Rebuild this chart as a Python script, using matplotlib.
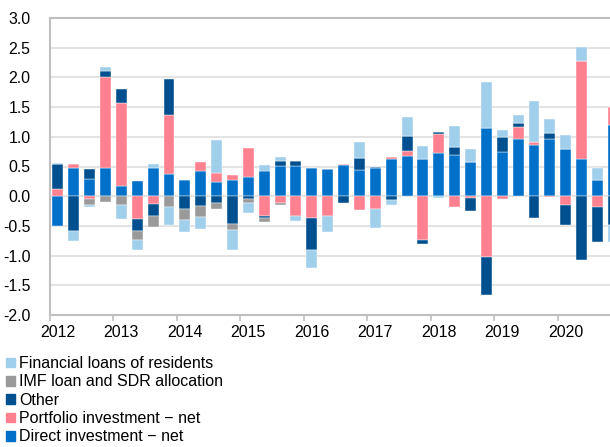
import numpy as np
import matplotlib
matplotlib.use('Agg')
import matplotlib.pyplot as plt
from matplotlib.patches import Patch

plt.rcParams['font.family'] = ['Liberation Sans', 'DejaVu Sans']

# quarterly, 2012Q1 .. 2020Q4
years = ['2012', '2013', '2014', '2015', '2016', '2017', '2018', '2019', '2020']

direct = [-0.51, 0.48, 0.29, 0.48, 0.18, 0.26, 0.47, 0.38, 0.27, 0.43,
          0.24, 0.28, 0.33, 0.43, 0.51, 0.51, 0.47, 0.46, 0.53, 0.44,
          0.47, 0.63, 0.67, 0.63, 0.72, 0.69, 0.58, 1.15, 0.74, 0.96,
          0.87, 0.97, 0.79, 0.62, 0.28, 1.20]
portfolio = [0.12, 0.06, -0.04, 1.52, 1.39, -0.38, -0.13, 0.98, 0.0, 0.15,
             0.15, 0.07, 0.48, -0.34, -0.12, -0.33, -0.37, -0.34, 0.01, -0.24,
             -0.21, 0.03, 0.09, -0.74, 0.33, -0.19, -0.03, -1.03, -0.05, 0.20,
             0.05, -0.01, -0.15, 1.65, -0.19, 0.30]
other = [0.43, -0.59, 0.16, 0.10, 0.24, -0.20, -0.20, 0.61, -0.22, -0.16,
         -0.11, -0.46, -0.05, -0.03, 0.08, 0.08, -0.53, 0.0, -0.12, 0.20,
         0.02, -0.07, 0.25, -0.07, 0.03, 0.13, -0.22, -0.63, 0.25, 0.08,
         -0.36, 0.10, -0.33, -1.08, -0.58, -0.49]
imf = [0.0, 0.0, -0.10, -0.10, -0.15, -0.15, -0.19, -0.18, -0.18, -0.19,
       -0.10, -0.11, -0.06, -0.06, -0.02, 0.0, 0.0, 0.0, 0.0, 0.0,
       0.0, 0.0, 0.0, 0.0, 0.0, 0.0, 0.0, 0.0, 0.0, 0.0,
       0.0, 0.0, 0.0, 0.0, 0.0, 0.0]
fin_loans = [0.01, -0.16, -0.05, 0.07, -0.24, -0.18, 0.08, -0.30, -0.20, -0.20,
             0.55, -0.34, -0.17, 0.10, 0.07, -0.09, -0.31, -0.26, 0.0, 0.28,
             -0.32, -0.07, 0.32, 0.21, -0.03, 0.37, 0.21, 0.78, 0.13, 0.12,
             0.69, 0.23, 0.24, 0.25, 0.19, -0.28]

series = [
    ('Direct investment \u2212 net', direct, '#0070C9'),
    ('Portfolio investment \u2212 net', portfolio, '#FF808F'),
    ('Other', other, '#00508F'),
    ('IMF loan and SDR allocation', imf, '#9A9A9A'),
    ('Financial loans of residents', fin_loans, '#A0CFEB'),
]

fig = plt.figure(figsize=(6.10, 4.47), dpi=100)
ax = fig.add_axes([50 / 610, (447 - 315) / 447, 560 / 610, 297 / 447])

x = np.arange(len(direct))
pos = np.zeros(len(x))
neg = np.zeros(len(x))
for name, vals, col in series:
    v = np.array(vals)
    bottom = np.where(v >= 0, pos, neg)
    ax.bar(x, v, 0.69, bottom=bottom, color=col, edgecolor='white',
           linewidth=0.3, zorder=3)
    pos += np.clip(v, 0, None)
    neg += np.clip(v, None, 0)

ax.set_yticks(np.arange(-2.0, 3.01, 0.5))
ax.set_yticklabels(['%.1f' % t for t in np.arange(-2.0, 3.01, 0.5)])
ax.yaxis.grid(True, color='#E3E3E3', linewidth=1.5)
ax.set_axisbelow(True)

ax.set_xticks(np.arange(0, len(x), 4))
ax.set_xticklabels(years)
ax.set_xticks(np.arange(-0.5, len(x), 4), minor=True)
ax.tick_params(axis='x', which='major', length=0, pad=7, labelsize=11.4)
ax.tick_params(axis='x', which='minor', length=4, color='#BFBFBF', width=1.2)
ax.tick_params(axis='y', length=0, pad=14, labelsize=11.4)

# limits last, set_xticks would widen them
ax.set_xlim(-0.5, 34.79)
ax.set_ylim(-2.0, 3.0)

for s in ['left', 'top', 'bottom']:
    ax.spines[s].set_color('#C0C0C0')
    ax.spines[s].set_linewidth(1.5)
ax.spines['right'].set_visible(False)

handles = [Patch(color=col, label=name) for name, vals, col in series[::-1]]
fig.legend(handles=handles, loc='upper left', bbox_to_anchor=(6 / 610, 1 - 356 / 447),
           frameon=False, fontsize=11.5, handlelength=0.55, handleheight=0.55,
           handletextpad=0.25, labelspacing=0.21, borderaxespad=0, borderpad=0)

fig.savefig('out.png', dpi=100)
